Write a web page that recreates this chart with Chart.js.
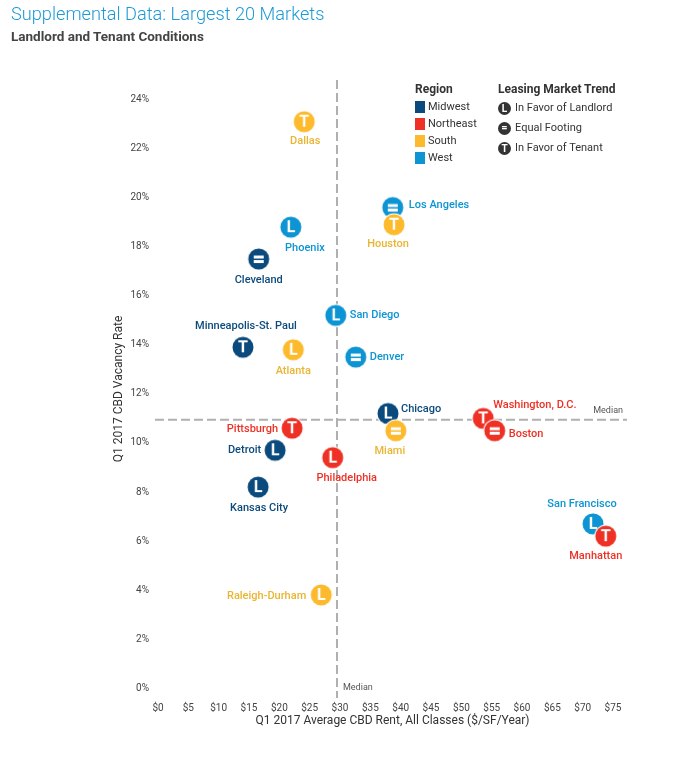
<!DOCTYPE html>
<html>
<head>
<meta charset="utf-8">
<script src="https://cdn.jsdelivr.net/npm/chart.js"></script>
<style>
  body { margin: 0; background: #fff; font-family: Roboto, 'Noto Sans', sans-serif; }
  .wrap { position: relative; width: 675px; height: 760px; }
  canvas { position: absolute; left: 0; top: 0; }
  .titulo { position: absolute; left: 11px; top: 3px; font-size: 18.2px; font-weight: 300; color: #1d9ad6; white-space: nowrap; }
  .sub { position: absolute; left: 11px; top: 28px; font-size: 13.5px; font-weight: 700; color: #444; white-space: nowrap; }
  .leg { position: absolute; font-size: 11px; color: #333; white-space: nowrap; }
  .leg b { display: block; font-size: 12px; color: #333; height: 17px; line-height: 17px; }
  .row { height: 17px; line-height: 17px; display: flex; align-items: center; }
  .sq { width: 10px; height: 12px; margin-right: 3px; }
  .ic { width: 13px; height: 13px; border-radius: 50%; background: #333; color: #fff; font-size: 10px; font-weight: 700;
        display: inline-flex; align-items: center; justify-content: center; margin-right: 4px; line-height: 13px; }
  .trend .row { height: 20px; line-height: 20px; }
</style>
</head>
<body>
<div class="wrap">
  <canvas id="grafico" width="675" height="760"></canvas>
  <div class="titulo">Supplemental Data: Largest 20 Markets</div>
  <div class="sub">Landlord and Tenant Conditions</div>
  <div class="leg" id="legRegion" style="left:415px; top:81px;"><b>Region</b></div>
  <div class="leg trend" id="legTrend" style="left:498px; top:81px;"><b>Leasing Market Trend</b></div>
</div>
<script>
// dados
const markets = ['Dallas', 'Los Angeles', 'Houston', 'Phoenix', 'Cleveland', 'San Diego', 'Minneapolis-St. Paul',
  'Atlanta', 'Denver', 'Chicago', 'Miami', 'Pittsburgh', 'Detroit', 'Philadelphia', 'Kansas City',
  'Washington, D.C.', 'Boston', 'San Francisco', 'Manhattan', 'Raleigh-Durham'];
const rent = [24.1, 38.7, 38.9, 21.9, 16.6, 29.3, 14.0, 22.3, 32.6, 37.9, 39.2, 22.1, 19.3, 28.8, 16.5, 53.6, 55.5, 71.7, 73.8, 26.9];
const vacancy = [23.1, 19.6, 18.9, 18.8, 17.5, 15.2, 13.9, 13.8, 13.5, 11.2, 10.5, 10.6, 9.7, 9.4, 8.2, 11.0, 10.5, 6.7, 6.2, 3.8];
const region = ['South', 'West', 'South', 'West', 'Midwest', 'West', 'Midwest', 'South', 'West', 'Midwest', 'South',
  'Northeast', 'Midwest', 'Northeast', 'Midwest', 'Northeast', 'Northeast', 'West', 'Northeast', 'South'];
const trend = ['T', '=', 'T', 'L', '=', 'L', 'T', 'L', '=', 'L', '=', 'T', 'L', 'L', 'L', 'T', '=', 'L', 'T', 'L'];
const medianRent = 29.5;
const medianVacancy = 10.95;
const xTicks = [0, 5, 10, 15, 20, 25, 30, 35, 40, 45, 50, 55, 60, 65, 70, 75];
const yTicks = [0, 2, 4, 6, 8, 10, 12, 14, 16, 18, 20, 22, 24];

const regionNames = ['Midwest', 'Northeast', 'South', 'West'];
const trendNames = [['L', 'In Favor of Landlord'], ['=', 'Equal Footing'], ['T', 'In Favor of Tenant']];

// estilos
const cores = { Midwest: '#0b4a7d', Northeast: '#ee3124', South: '#fdba2c', West: '#0c94d3' };
const coresTexto = { Midwest: '#0b4a7d', Northeast: '#ee3124', South: '#eab532', West: '#0c94d3' };
// deslocamento do rótulo [dx, dy, alinhamento]
const labelOffsets = [[1, 20, 'center'], [16, -2, 'left'], [-6, 20, 'center'], [14, 21, 'center'], [0, 21, 'center'],
  [14, 0, 'left'], [3, -21, 'center'], [0, 21, 'center'], [14, 0, 'left'], [13, -4, 'left'], [-6, 21, 'center'],
  [-14, 1, 'right'], [-14, 0, 'right'], [14, 21, 'center'], [1, 21, 'center'], [10, -13, 'left'], [14, 4, 'left'],
  [-11, -20, 'center'], [-10, 20, 'center'], [-15, 1, 'right']];

function fazIcone(cor, letra) {
  const c = document.createElement('canvas');
  c.width = 26; c.height = 26;
  const g = c.getContext('2d');
  g.beginPath();
  g.arc(13, 13, 11.5, 0, Math.PI * 2);
  g.fillStyle = '#fff';
  g.fill();
  g.beginPath();
  g.arc(13, 13, 10.5, 0, Math.PI * 2);
  g.fillStyle = cor;
  g.fill();
  g.fillStyle = '#fff';
  if (letra === '=') {
    g.fillRect(8, 9.5, 10, 3);
    g.fillRect(8, 14, 10, 3);
  } else {
    g.font = 'bold 16px Roboto, sans-serif';
    g.textAlign = 'center';
    g.textBaseline = 'middle';
    g.fillText(letra, 13, 14);
  }
  return c;
}

const icones = {};
for (const r of regionNames) {
  for (const t of ['L', '=', 'T']) icones[r + t] = fazIcone(cores[r], t);
}

// legenda
const legRegion = document.getElementById('legRegion');
for (const r of regionNames) {
  const d = document.createElement('div');
  d.className = 'row';
  d.innerHTML = `<span class="sq" style="background:${cores[r]}"></span>${r}`;
  legRegion.append(d);
}
const legTrend = document.getElementById('legTrend');
for (const [t, nome] of trendNames) {
  const d = document.createElement('div');
  d.className = 'row';
  const simbolo = t === '=' ? '<span style="font-size:11px;line-height:10px;">=</span>' : t;
  d.innerHTML = `<span class="ic">${simbolo}</span>${nome}`;
  legTrend.append(d);
}

const fonteNarrow = "'Liberation Sans Narrow', Roboto, sans-serif";

const medianas = {
  id: 'medianas',
  beforeDatasetsDraw(chart) {
    const { ctx, chartArea, scales: { x, y } } = chart;
    const px = x.getPixelForValue(medianRent);
    const py = y.getPixelForValue(medianVacancy);
    ctx.save();
    ctx.strokeStyle = '#b0b0b0';
    ctx.lineWidth = 2;
    ctx.setLineDash([9, 4]);
    ctx.beginPath();
    ctx.moveTo(px, chartArea.top);
    ctx.lineTo(px, chartArea.bottom);
    ctx.moveTo(chartArea.left - 3, py);
    ctx.lineTo(chartArea.right, py);
    ctx.stroke();
    ctx.fillStyle = '#555';
    ctx.font = '9px ' + fonteNarrow;
    ctx.textBaseline = 'middle';
    ctx.textAlign = 'right';
    ctx.fillText('Median', chartArea.right - 4, py - 9);
    ctx.textAlign = 'left';
    ctx.fillText('Median', px + 6, y.getPixelForValue(0));
    ctx.restore();
  }
};

const rotulos = {
  id: 'rotulos',
  afterDatasetsDraw(chart) {
    const { ctx } = chart;
    const meta = chart.getDatasetMeta(0);
    ctx.save();
    ctx.font = '500 11px Roboto, sans-serif';
    ctx.textBaseline = 'middle';
    meta.data.forEach((pt, i) => {
      const [dx, dy, al] = labelOffsets[i];
      ctx.fillStyle = coresTexto[region[i]];
      ctx.textAlign = al;
      ctx.fillText(markets[i], pt.x + dx, pt.y + dy);
    });
    ctx.restore();
  }
};

const pontos = markets.map((m, i) => ({ x: rent[i], y: vacancy[i] }));

new Chart(document.getElementById('grafico'), {
  type: 'scatter',
  data: {
    datasets: [{
      data: pontos,
      pointStyle: (c) => icones[region[c.dataIndex] + trend[c.dataIndex]],
      pointRadius: 11,
      pointHoverRadius: 11
    }]
  },
  options: {
    responsive: false,
    animation: false,
    layout: { padding: { top: 80, right: 48, bottom: 26, left: 0 } },
    plugins: { legend: { display: false }, tooltip: { enabled: false } },
    scales: {
      x: {
        min: 0,
        max: 77.3,
        grid: { display: false, drawTicks: false },
        border: { display: false },
        afterBuildTicks: (s) => { s.ticks = xTicks.map(v => ({ value: v })); },
        afterFit: (s) => { s.height = 36; },
        ticks: {
          padding: 4,
          color: '#444',
          font: { family: fonteNarrow, size: 10 },
          callback: (v) => '$' + v
        },
        title: {
          display: true,
          text: 'Q1 2017 Average CBD Rent, All Classes ($/SF/Year)',
          color: '#333',
          font: { family: 'Roboto, sans-serif', size: 12 },
          padding: { top: 0, bottom: 6 }
        }
      },
      y: {
        min: -0.4,
        max: 24.8,
        grid: { display: false, drawTicks: false },
        border: { display: false },
        afterBuildTicks: (s) => { s.ticks = yTicks.map(v => ({ value: v })); },
        afterFit: (s) => { s.width = 158; },
        ticks: {
          padding: 9,
          color: '#444',
          font: { family: fonteNarrow, size: 10 },
          callback: (v) => v + '%'
        },
        title: {
          display: true,
          text: 'Q1 2017 CBD Vacancy Rate',
          color: '#333',
          font: { family: fonteNarrow, size: 12 },
          padding: { top: 112, bottom: 0 }
        }
      }
    }
  },
  plugins: [medianas, rotulos]
});
</script>
</body>
</html>
